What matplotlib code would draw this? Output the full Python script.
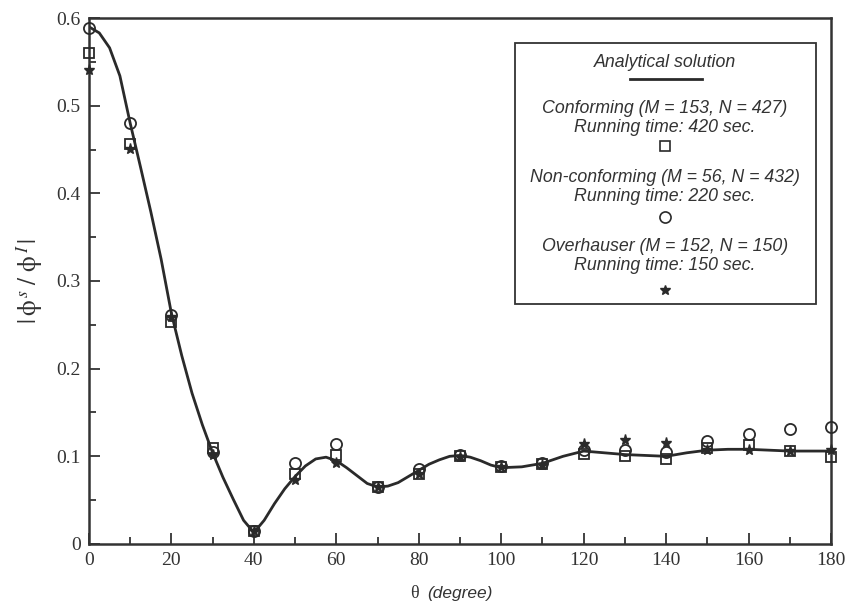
import matplotlib
matplotlib.use("Agg")
import matplotlib.pyplot as plt
from matplotlib.patches import Rectangle
from matplotlib.ticker import MultipleLocator

# analytical solution (finer steps where it bends)
theta_exact = [0, 2.5, 5, 7.5, 10, 12.5, 15, 17.5, 20, 22.5, 25, 27.5, 30, 32.5, 35, 37.5,
               40, 42.5, 45, 47.5, 50, 52.5, 55, 57.5, 60, 62.5, 65, 67.5, 70, 72.5, 75,
               77.5, 80, 82.5, 85, 87.5, 90, 92.5, 95, 97.5, 100, 105, 110, 115, 120, 125,
               130, 135, 140, 145, 150, 155, 160, 165, 170, 175, 180]
phi_exact = [0.590, 0.583, 0.566, 0.534, 0.480, 0.430, 0.379, 0.325, 0.263, 0.215,
             0.172, 0.136, 0.104, 0.076, 0.051, 0.027, 0.013, 0.027, 0.046, 0.063,
             0.077, 0.089, 0.097, 0.099, 0.095, 0.087, 0.078, 0.069, 0.065, 0.066,
             0.070, 0.077, 0.084, 0.091, 0.096, 0.100, 0.101, 0.099, 0.095, 0.090,
             0.087, 0.088, 0.092, 0.100, 0.106, 0.104, 0.102, 0.101, 0.100, 0.104,
             0.107, 0.108, 0.108, 0.107, 0.106, 0.106, 0.106]

theta = [0, 10, 20, 30, 40, 50, 60, 70, 80, 90, 100, 110, 120, 130, 140, 150, 160, 170, 180]
conforming = [0.560, 0.456, 0.253, 0.109, 0.015, 0.080, 0.101, 0.065, 0.080, 0.100,
              0.088, 0.091, 0.103, 0.100, 0.097, 0.109, 0.113, 0.106, 0.099]
nonconforming = [0.589, 0.480, 0.261, 0.105, 0.015, 0.092, 0.114, 0.065, 0.085, 0.102,
                 0.089, 0.092, 0.107, 0.107, 0.105, 0.117, 0.126, 0.131, 0.134]
overhauser = [0.541, 0.451, 0.259, 0.101, 0.015, 0.073, 0.092, 0.065, 0.080, 0.099,
              0.088, 0.090, 0.114, 0.119, 0.115, 0.107, 0.107, 0.106, 0.107]

legend_lines = ["Conforming (M = 153, N = 427)", "Running time: 420 sec.",
                "Non-conforming (M = 56, N = 432)", "Running time: 220 sec.",
                "Overhauser (M = 152, N = 150)", "Running time: 150 sec."]

serif = "Liberation Serif"
sans = "Liberation Sans"
ink = "#2a2a2a"

plt.rcParams["mathtext.fontset"] = "stix"

fig = plt.figure(figsize=(8.49, 6.11), dpi=100)
ax = fig.add_axes([0.1048, 0.1097, 0.8740, 0.8608])

ax.plot(theta_exact, phi_exact, color=ink, lw=2.0, zorder=2)
ax.plot(theta, conforming, ls="none", marker="s", ms=7, mfc="none", mec=ink,
        mew=1.3, clip_on=False, zorder=3)
ax.plot(theta, nonconforming, ls="none", marker="o", ms=8, mfc="none", mec=ink,
        mew=1.3, clip_on=False, zorder=3)
ax.plot(theta, overhauser, ls="none", marker="*", ms=8, color=ink,
        clip_on=False, zorder=3)

ax.set_xlim(0, 180)
ax.set_ylim(0, 0.6)
ax.xaxis.set_major_locator(MultipleLocator(20))
ax.xaxis.set_minor_locator(MultipleLocator(10))
ax.yaxis.set_major_locator(MultipleLocator(0.1))
ax.yaxis.set_minor_locator(MultipleLocator(0.05))
ax.set_xticklabels([f"{v:g}" for v in ax.get_xticks()])
ax.set_yticklabels([f"{v:g}" for v in ax.get_yticks()])
ax.tick_params(which="both", direction="in", top=False, right=False, width=1.3,
               color="#333333", labelcolor="#333333")
ax.tick_params(which="major", length=8, pad=6)
ax.tick_params(which="minor", length=5)
for lab in ax.get_xticklabels() + ax.get_yticklabels():
    lab.set_fontfamily(serif)
    lab.set_fontsize(14)
for sp in ax.spines.values():
    sp.set_linewidth(1.8)
    sp.set_color("#333333")

fig.text(0.493, 0.021, "\u03b8", family=serif, fontsize=13, ha="right", color="#333333")
fig.text(0.503, 0.021, "(degree)", family=sans, style="italic", fontsize=12.5,
         ha="left", color="#333333")

fig.text(0.035, 0.54, r"$|\,\mathrm{\phi}^{\,s}\ /\ \mathrm{\phi}^{\,I}\,|$", rotation=90,
         fontsize=18, ha="center", va="center", color="#333333")

# legend box, placed in pixel units of the original figure
def ax_xy(px, py):
    return (px - 89) / 742, (544 - py) / 526

x0, y0 = ax_xy(515, 304)
x1, y1 = ax_xy(816, 43)
ax.add_patch(Rectangle((x0, y0), x1 - x0, y1 - y0, transform=ax.transAxes,
                       fill=False, lw=1.3, ec="#333333", zorder=4))
cx = ax_xy(665, 0)[0]
tkw = dict(transform=ax.transAxes, ha="center", va="center", family=sans,
           style="italic", fontsize=12.8, color="#333333")
ax.text(cx, ax_xy(0, 62)[1], "Analytical solution", **tkw)
ax.plot([ax_xy(630, 0)[0], ax_xy(702, 0)[0]], [ax_xy(0, 79)[1]] * 2,
        transform=ax.transAxes, color=ink, lw=2.0)
for txt, py in zip(legend_lines, [108, 127, 177, 196, 246, 265]):
    ax.text(cx, ax_xy(0, py)[1], txt, **tkw)
mkw = dict(transform=ax.transAxes, ls="none", mec=ink, mew=1.2)
ax.plot([cx], [ax_xy(0, 146)[1]], marker="s", ms=7, mfc="none", **mkw)
ax.plot([cx], [ax_xy(0, 217)[1]], marker="o", ms=8, mfc="none", **mkw)
ax.plot([cx], [ax_xy(0, 290)[1]], marker="*", ms=7, color=ink,
        transform=ax.transAxes, ls="none")

fig.savefig("out.png", dpi=100)
